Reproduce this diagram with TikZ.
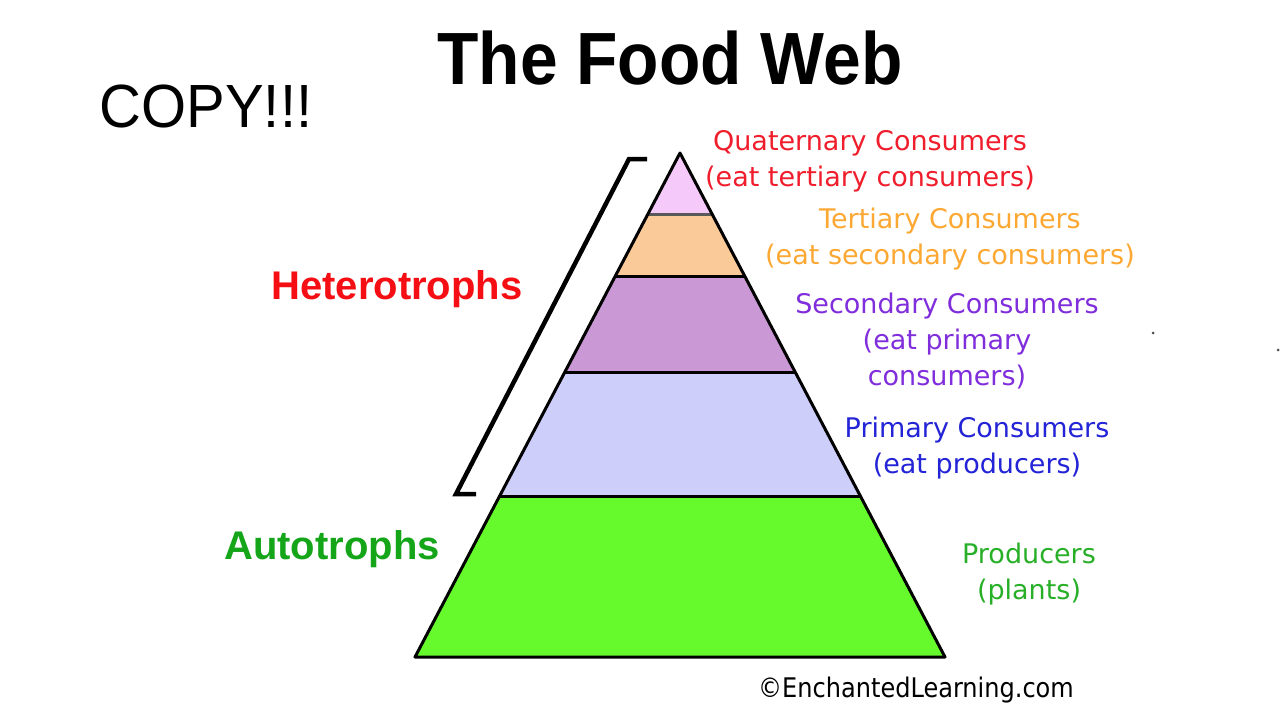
\documentclass[tikz,border=0pt]{standalone}
\usepackage{fontspec}
\usepackage{graphicx}
\usetikzlibrary{calc}
\newfontfamily\labfont{DejaVu Sans}
\newfontfamily\hdfont{Liberation Sans}
\definecolor{cQuat}{RGB}{240,30,45}
\definecolor{cTert}{RGB}{252,168,50}
\definecolor{cSec}{RGB}{128,45,220}
\definecolor{cPrim}{RGB}{35,35,215}
\definecolor{cProd}{RGB}{40,175,40}
\definecolor{cHet}{RGB}{245,15,20}
\definecolor{cAut}{RGB}{20,165,25}
\definecolor{fQuat}{RGB}{245,202,250}
\definecolor{fTert}{RGB}{250,202,152}
\definecolor{fSec}{RGB}{202,152,212}
\definecolor{fPrim}{RGB}{206,206,250}
\definecolor{fProd}{RGB}{102,250,45}
\tikzset{
  lab/.style={font=\labfont\fontsize{27}{36}\selectfont, align=center, inner sep=0pt},
  bigbold/.style={font=\hdfont\bfseries\fontsize{40}{44}\selectfont, inner sep=0pt},
  band/.style={draw=black, line width=3pt, line join=round},
}
\begin{document}
\begin{tikzpicture}[x=1pt,y=-1pt]
\useasboundingbox (0,0) rectangle (1280,720);
\fill[white] (0,0) rectangle (1280,720);
% pyramid geometry
\coordinate (A) at (680,153);
\coordinate (BL) at (415,657);
\coordinate (BR) at (945,657);
\coordinate (L1) at ($(A)!0.1230!(BL)$); \coordinate (R1) at ($(A)!0.1230!(BR)$);
\coordinate (L2) at ($(A)!0.2460!(BL)$); \coordinate (R2) at ($(A)!0.2460!(BR)$);
\coordinate (L3) at ($(A)!0.4365!(BL)$); \coordinate (R3) at ($(A)!0.4365!(BR)$);
\coordinate (L4) at ($(A)!0.6806!(BL)$); \coordinate (R4) at ($(A)!0.6806!(BR)$);
% fills
\fill[fQuat] (A) -- (R1) -- (L1) -- cycle;
\fill[fTert] (L1) -- (R1) -- (R2) -- (L2) -- cycle;
\fill[fSec] (L2) -- (R2) -- (R3) -- (L3) -- cycle;
\fill[fPrim] (L3) -- (R3) -- (R4) -- (L4) -- cycle;
\fill[fProd] (L4) -- (R4) -- (BR) -- (BL) -- cycle;
% band boundaries
\draw[gray!70!black, line width=3pt] (L1) -- (R1);
\draw[band] (L2) -- (R2);
\draw[band] (L3) -- (R3);
\draw[band] (L4) -- (R4);
\draw[band] (A) -- (BR) -- (BL) -- cycle;
% bracket
\coordinate (K1) at (647,159);
\coordinate (K2) at (629,159);
\coordinate (K3) at (456,494);
\coordinate (K4) at (476,494);
\draw[line width=4.5pt, line join=miter] (K1) -- (K2) -- (K3) -- (K4);
% titles
\node[inner sep=0pt] (title) at (670,58) {\scalebox{0.915}[1]{\hdfont\bfseries\fontsize{74}{80}\selectfont The Food Web}};
\node[inner sep=0pt] (copy) at (206,106) {\scalebox{0.95}[1]{\hdfont\fontsize{61}{66}\selectfont COPY!!!}};
% side labels
\node[bigbold, text=cHet] (het) at (397,289) {Heterotrophs};
\node[bigbold, text=cAut] (aut) at (332,549) {Autotrophs};
% level labels
\node[lab, text=cQuat] (quat) at (870,161) {Quaternary Consumers\\(eat tertiary consumers)};
\node[lab, text=cTert] (tert) at (950,239) {Tertiary Consumers\\(eat secondary consumers)};
\node[lab, text=cSec] (sec) at (947,341) {Secondary Consumers\\(eat primary\\consumers)};
\node[lab, text=cPrim] (prim) at (977,448) {Primary Consumers\\(eat producers)};
\node[lab, text=cProd] (prod) at (1029,574) {Producers\\(plants)};
\node[inner sep=0pt, text=black] (copyr) at (916,690) {\scalebox{0.89}[1]{\labfont\fontsize{27}{36}\selectfont\textcopyright EnchantedLearning.com}};
% stray dots
\fill[gray!60!black] (1153,333) circle (1.5);
\fill[gray!60!black] (1278,350) circle (1.5);
\end{tikzpicture}
\end{document}
